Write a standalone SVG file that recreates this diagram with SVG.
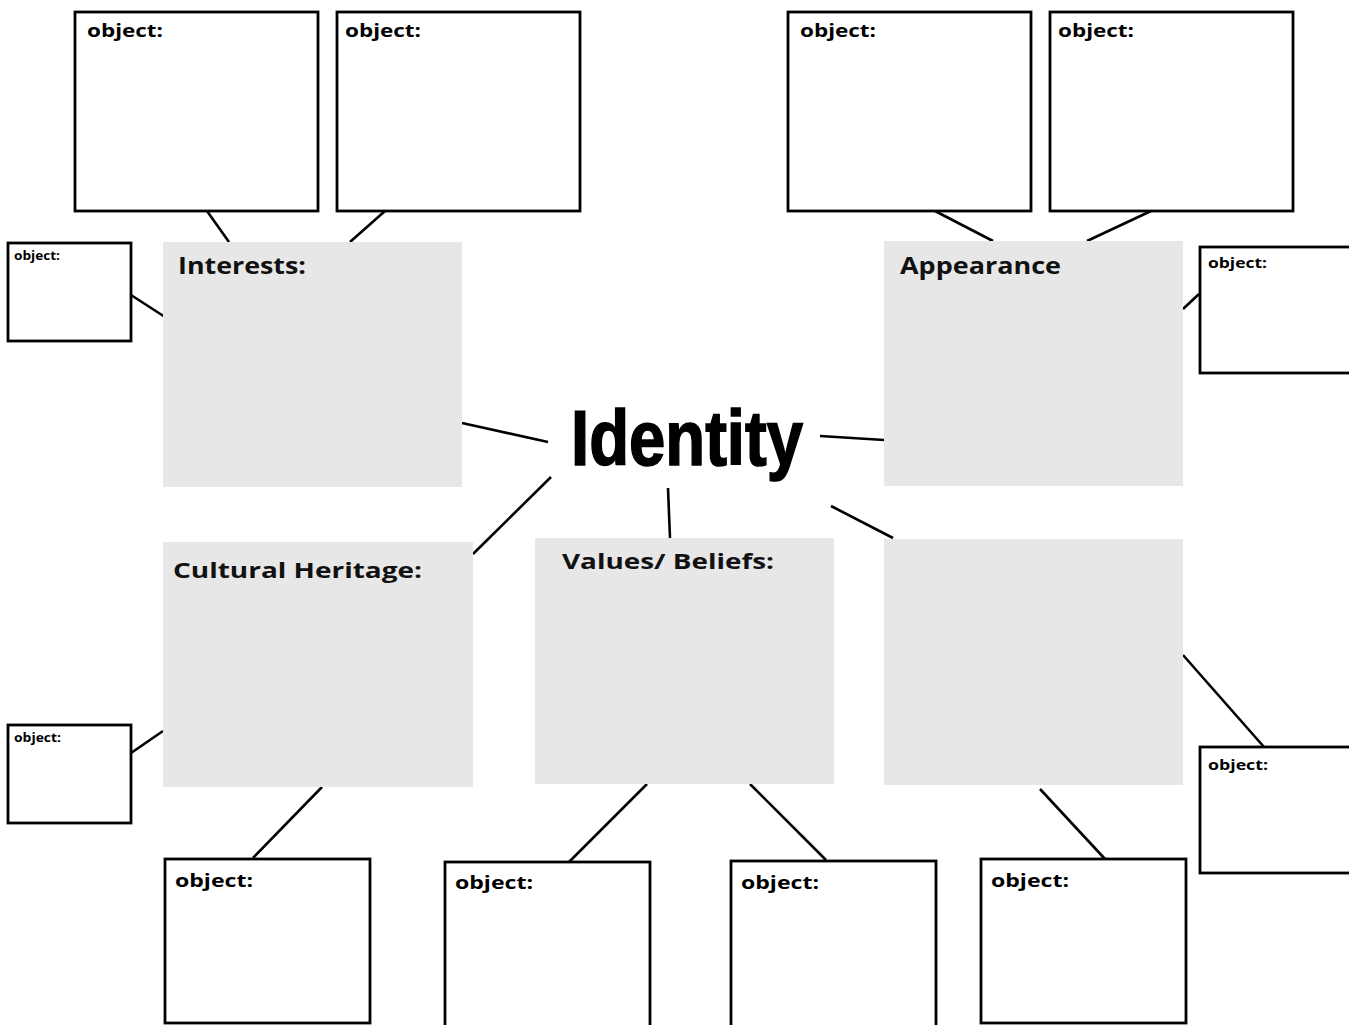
<svg xmlns="http://www.w3.org/2000/svg" width="1349" height="1025" viewBox="0 0 1349 1025">
<style>
.obj{fill:#fff;stroke:#000;stroke-width:2.8}
.cat{fill:#e7e7e7}
.ot{font-family:"Open Sans","Liberation Sans",sans-serif;font-weight:bold;fill:#000}
.ct{font-family:"Open Sans","Liberation Sans",sans-serif;font-weight:bold;fill:#111}
.con line{stroke:#000;stroke-width:2.6;stroke-linecap:butt}
</style>
<rect width="1349" height="1025" fill="#fff"/>
<g id="connectors" class="con">
<line x1="207" y1="211" x2="229" y2="242"/>
<line x1="385" y1="211" x2="350" y2="242"/>
<line x1="131" y1="295" x2="165" y2="317"/>
<line x1="935" y1="211" x2="993" y2="241"/>
<line x1="1151" y1="211" x2="1087" y2="241"/>
<line x1="1199" y1="294" x2="1183" y2="309"/>
<line x1="462" y1="423" x2="548" y2="442"/>
<line x1="820" y1="436" x2="884" y2="440"/>
<line x1="551" y1="477" x2="473" y2="554"/>
<line x1="668" y1="488" x2="670" y2="538"/>
<line x1="831" y1="506" x2="893" y2="538"/>
<line x1="131" y1="753" x2="163" y2="731"/>
<line x1="322" y1="787" x2="253" y2="858"/>
<line x1="647" y1="784" x2="569" y2="862"/>
<line x1="750" y1="784" x2="826" y2="860"/>
<line x1="1040" y1="789" x2="1105" y2="859"/>
<line x1="1183" y1="655" x2="1264" y2="747"/>
</g>
<g id="interests"><rect class="cat" x="163" y="242" width="299" height="245"/><text class="ct" x="178" y="274" font-size="24" textLength="128" lengthAdjust="spacingAndGlyphs">Interests:</text></g>
<g id="appearance"><rect class="cat" x="884" y="241" width="299" height="245"/><text class="ct" x="900" y="274" font-size="23" textLength="161" lengthAdjust="spacingAndGlyphs">Appearance</text></g>
<g id="cultural"><rect class="cat" x="163" y="542" width="310" height="245"/><text class="ct" x="173" y="578" font-size="22" textLength="249" lengthAdjust="spacingAndGlyphs">Cultural Heritage:</text></g>
<g id="values"><rect class="cat" x="535" y="538" width="299" height="246"/><text class="ct" x="562" y="569" font-size="22" textLength="212" lengthAdjust="spacingAndGlyphs">Values/ Beliefs:</text></g>
<g id="blank"><rect class="cat" x="884" y="539" width="299" height="246"/></g>
<g id="identity"><text x="571" y="465" font-family="'Liberation Sans',Arial,sans-serif" font-weight="bold" font-size="78" textLength="232" lengthAdjust="spacingAndGlyphs" fill="#000" stroke="#000" stroke-width="1.6">Identity</text></g>
<g id="obj1"><rect class="obj" x="75" y="12" width="243" height="199"/><text class="ot" x="87" y="37" font-size="18" textLength="76" lengthAdjust="spacingAndGlyphs">object:</text></g>
<g id="obj2"><rect class="obj" x="337" y="12" width="243" height="199"/><text class="ot" x="345" y="37" font-size="18" textLength="76" lengthAdjust="spacingAndGlyphs">object:</text></g>
<g id="obj3"><rect class="obj" x="8" y="243" width="123" height="98"/><text class="ot" x="14" y="260" font-size="11.5" textLength="46" lengthAdjust="spacingAndGlyphs">object:</text></g>
<g id="obj4"><rect class="obj" x="788" y="12" width="243" height="199"/><text class="ot" x="800" y="37" font-size="18" textLength="76" lengthAdjust="spacingAndGlyphs">object:</text></g>
<g id="obj5"><rect class="obj" x="1050" y="12" width="243" height="199"/><text class="ot" x="1058" y="37" font-size="18" textLength="76" lengthAdjust="spacingAndGlyphs">object:</text></g>
<g id="obj6"><rect class="obj" x="1200" y="247" width="170" height="126"/><text class="ot" x="1208" y="268" font-size="14" textLength="59" lengthAdjust="spacingAndGlyphs">object:</text></g>
<g id="obj7"><rect class="obj" x="8" y="725" width="123" height="98"/><text class="ot" x="14" y="742" font-size="11.5" textLength="47" lengthAdjust="spacingAndGlyphs">object:</text></g>
<g id="obj8"><rect class="obj" x="165" y="859" width="205" height="164"/><text class="ot" x="175" y="887" font-size="18" textLength="78" lengthAdjust="spacingAndGlyphs">object:</text></g>
<g id="obj9"><rect class="obj" x="445" y="862" width="205" height="180"/><text class="ot" x="455" y="889" font-size="18" textLength="78" lengthAdjust="spacingAndGlyphs">object:</text></g>
<g id="obj10"><rect class="obj" x="731" y="861" width="205" height="180"/><text class="ot" x="741" y="889" font-size="18" textLength="78" lengthAdjust="spacingAndGlyphs">object:</text></g>
<g id="obj11"><rect class="obj" x="981" y="859" width="205" height="164"/><text class="ot" x="991" y="887" font-size="18" textLength="78" lengthAdjust="spacingAndGlyphs">object:</text></g>
<g id="obj12"><rect class="obj" x="1200" y="747" width="170" height="126"/><text class="ot" x="1208" y="770" font-size="14" textLength="60" lengthAdjust="spacingAndGlyphs">object:</text></g>
</svg>
